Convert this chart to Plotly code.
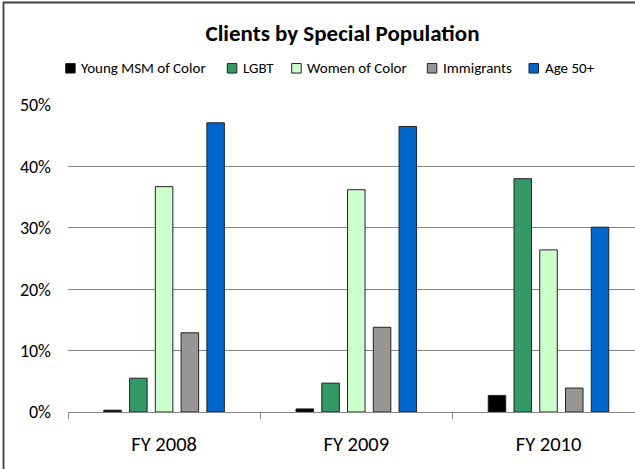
import plotly.graph_objects as go

categories = ["FY 2008", "FY 2009", "FY 2010"]
series_names = ["Young MSM of Color", "LGBT", "Women of Color", "Immigrants", "Age 50+"]
young_msm = [0.003, 0.005, 0.027]
lgbt = [0.055, 0.047, 0.380]
women_of_color = [0.367, 0.362, 0.264]
immigrants = [0.129, 0.138, 0.039]
age_50_plus = [0.471, 0.465, 0.301]
colors = ["#000000", "#339966", "#CCFFCC", "#969696", "#0066CC"]

FONT = "Calibri, Carlito, Lato, sans-serif"

fig = go.Figure()
for name, vals, col in zip(series_names,
                           [young_msm, lgbt, women_of_color, immigrants, age_50_plus],
                           colors):
    fig.add_trace(go.Bar(
        name=name, x=categories, y=vals,
        marker=dict(color=col, line=dict(color="#222222", width=1)),
        showlegend=False,
    ))

W, H = 635, 469
ML, MR, MT, MB = 68, 0, 105, 57
pw, ph = W - ML - MR, H - MT - MB


def px_x(p):
    return (p - ML) / pw


def px_y(p):
    return (H - MB - p) / ph


fig.update_layout(
    width=W, height=H,
    margin=dict(l=ML, r=MR, t=MT, b=MB, autoexpand=False),
    paper_bgcolor="white", plot_bgcolor="white",
    barmode="group", bargap=0.33, bargroupgap=0.32,
    font=dict(family=FONT, color="#000000"),
    title=dict(text="<b>Clients by Special Population</b>", font=dict(size=23, family=FONT),
               x=342.5 / W, xanchor="center", xref="container",
               y=1 - 33 / H, yanchor="middle", yref="container"),
    showlegend=False,
)
fig.update_xaxes(range=[-0.5, 2.45], showline=True, linecolor="#868686", linewidth=1.3,
                 ticks="outside", tickson="boundaries", ticklen=6, tickcolor="#868686",
                 tickwidth=1.3, tickfont=dict(size=20.5, family=FONT), showgrid=False,
                 ticklabelstandoff=13, fixedrange=True)
fig.update_yaxes(range=[0, 0.5], dtick=0.1, tickformat=".0%", showgrid=True,
                 gridcolor="#868686", gridwidth=1.3, zeroline=False, showline=False,
                 ticks="", ticklabelstandoff=16, tickfont=dict(size=18, family=FONT),
                 fixedrange=True)

# custom legend (tight symbol/text spacing like the reference)
legend_sq_x = [65.7, 227.3, 291.7, 427.3, 529.0]
legend_y = 68.3
sq = 9.5
for name, col, x0 in zip(series_names, colors, legend_sq_x):
    fig.add_shape(type="rect", xref="paper", yref="paper",
                  x0=px_x(x0), x1=px_x(x0 + sq),
                  y0=px_y(legend_y + sq / 2), y1=px_y(legend_y - sq / 2),
                  line=dict(color="#222222", width=1), fillcolor=col, layer="above")
    fig.add_annotation(text=name, xref="paper", yref="paper",
                       x=px_x(x0 + sq + 4), y=px_y(legend_y),
                       xanchor="left", yanchor="middle", showarrow=False,
                       font=dict(size=15, family=FONT, color="#000000"))

# chart frame (cropped on right and bottom like the reference)
fig.add_shape(type="rect", xref="paper", yref="paper",
              x0=px_x(3.5), x1=1.3,
              y0=-0.5, y1=px_y(2.5),
              line=dict(color="#404040", width=1.8), fillcolor="rgba(0,0,0,0)", layer="above")

fig.write_html("out.html", config={"displayModeBar": False},
               post_script="document.body.style.margin='0';")
